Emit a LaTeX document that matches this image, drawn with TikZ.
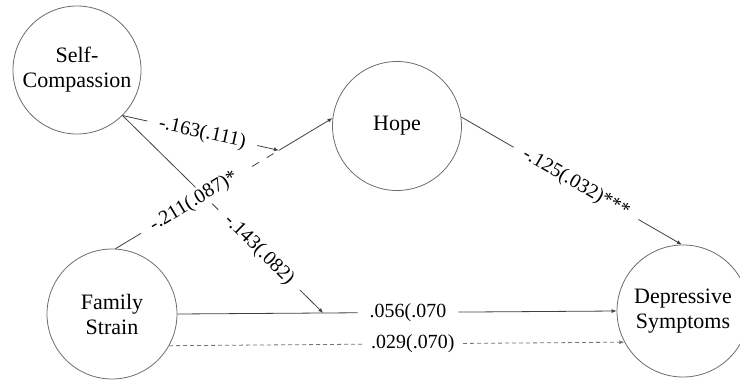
\documentclass[tikz,border=0pt]{standalone}
\usepackage{fontspec}
\setmainfont{Liberation Serif}
\usetikzlibrary{calc,arrows.meta}
\definecolor{circgray}{gray}{0.42}
\definecolor{linegray}{gray}{0.25}
\definecolor{dashgray}{gray}{0.45}
\begin{document}
\begin{tikzpicture}[x=1pt,y=-1pt,
  var/.style={circle,draw=circgray,line width=0.8pt,inner sep=0pt,align=center,
    font=\fontsize{22}{25}\selectfont},
  conn/.style={draw=linegray,line width=0.8pt},
  arr/.style={-{Latex[length=5pt,width=4pt]}},
  lbl/.style={fill=white,inner xsep=12pt,inner ysep=2pt,sloped,
    font=\fontsize{20}{22}\selectfont}]
\useasboundingbox (0,0) rectangle (740,383);

\node[var,minimum size=128pt] (sc) at (77,70) {Self-\\Compassion};
\node[var,minimum size=129pt] (hope) at (397,126) {Hope};
\node[var,minimum size=130pt] (fs) at (112,314) {Family\\Strain};
\node[var,minimum size=132pt] (ds) at (683,311) {Depressive\\Symptoms};

\coordinate (m1) at ($(fs.87)!0.753!(hope.173)$);
\coordinate (m2) at ($(fs.east)!0.332!(ds.180)$);
\coordinate (l211) at ($(fs.87)!0.48!(m1)$);

% Family Strain -> Hope
\draw[conn] (fs.87) -- (l211);
\draw[conn,dash pattern=on 8pt off 9pt] (l211) -- (m1);
\draw[conn,arr] (m1) -- (hope.173);

% moderation paths from Self-Compassion
\draw[conn,arr] (sc.-45) -- (m1);
\draw[conn,arr] (sc.-45) -- (m2);

% Hope -> Depressive Symptoms
\draw[conn,arr] (hope.8) -- (ds.91);

% Family Strain -> Depressive Symptoms
\draw[conn,arr] (fs.east) -- (ds.180);
\draw[draw=dashgray,line width=0.8pt,dash pattern=on 4pt off 3pt,arr] (fs.-29) -- (ds.-152);

% labels
\path (fs.87) -- (m1) node[lbl,pos=0.48] (t211) {-.211(.087)*};
\path (sc.-45) -- (m1) node[lbl,pos=0.51] (t163) {-.163(.111)};
\path (sc.-45) -- (m2) node[lbl,pos=0.68] (t143) {-.143(.082)};
\path (hope.8) -- (ds.91) node[lbl,pos=0.52] (t125) {-.125(.032)***};
\path (fs.east) -- (ds.180) node[lbl,pos=0.525] (t056) {.056(.070};
\path (fs.-29) -- (ds.-152) node[lbl,pos=0.535,inner xsep=7pt] (t029) {.029(.070)};
\end{tikzpicture}
\end{document}
